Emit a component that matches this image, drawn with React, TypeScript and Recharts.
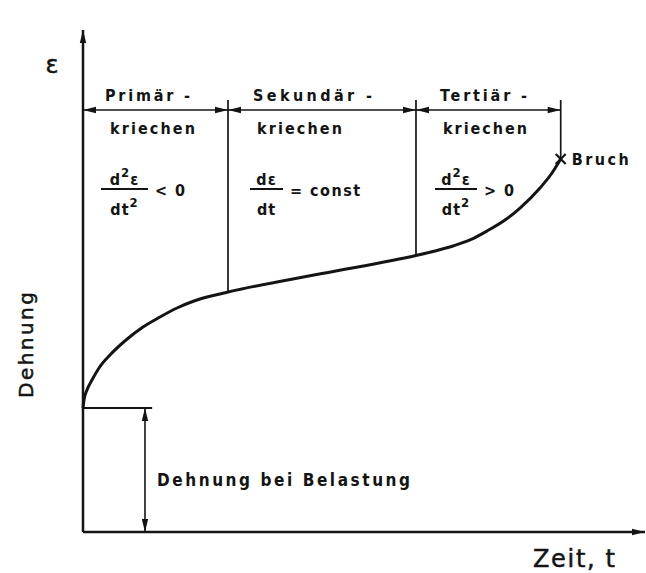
import React from 'react';
import { ComposedChart, Line, XAxis, YAxis, ReferenceLine, ReferenceDot } from 'recharts';

// Creep curve (Kriechkurve), arbitrary units: time t (0..100), strain ε (0..100)
const curveT = [0, 0.18, 0.71, 1.6, 2.85, 4.8, 7.65, 10.68, 13.7, 16.73, 19.75, 22.78, 25.8, 42.53, 59.25, 62.63, 65.84, 68.86, 71.89, 75.09, 77.76, 81.32, 83.45, 85.0];
const curveV = [24.7, 26.29, 28.29, 30.28, 32.67, 35.26, 38.25, 40.84, 42.83, 44.62, 46.02, 47.01, 47.81, 51.49, 55.08, 55.98, 56.97, 58.17, 59.96, 62.15, 64.54, 68.53, 71.51, 74.3];

// Phase boundaries (time) and strain where they meet the curve
const boundT = [0, 25.8, 59.25, 85.0];
const boundV = [24.7, 47.81, 55.08, 74.3];
const phaseNames = ['Primär -', 'Sekundär -', 'Tertiär -'];
const phaseNameWidths = [85, 119, 87];
const phaseSub = 'kriechen';
const phaseSubWidths = [85, 85, 84];
const phaseLabelT = [3.91, 30.25, 63.52];
const phaseSubT = [4.8, 30.96, 64.06];

// Levels (strain units)
const headerArrowV = 84.06;
const boundTopV = 86.06;
const headerLabelV = 85.86;
const subLabelV = 79.28;
const fracBarV = 68.33;

// Fractions
const fracNum = ['d²ε', 'dε', 'd²ε'];
const fracDen = ['dt²', 'dt', 'dt²'];
const fracSuffix = ['< 0', '= const', '> 0'];
const fracBarT0 = [3.2, 29.72, 62.63];
const fracBarT1 = [11.57, 35.59, 70.11];

// Initial strain
const initialStrainV = 24.7;
const initialLineEndT = 12.3;
const initialArrowT = 11.03;

const data = curveT.map((t, i) => ({ t, v: curveV[i] }));

const FONT = "'DejaVu Sans Condensed', 'DejaVu Sans', sans-serif";
const FONT_TITLE = "'DejaVu Sans', sans-serif";
const INK = '#141414';
const X_PX_PER_UNIT = 5.62;

const head = (x: number, y: number, a: number, key: string) => {
  const L = 13;
  const H = 3.2;
  const bx = x - L * Math.cos(a);
  const by = y - L * Math.sin(a);
  const px = -Math.sin(a) * H;
  const py = Math.cos(a) * H;
  return <polygon key={key} points={`${x},${y} ${bx + px},${by + py} ${bx - px},${by - py}`} fill={INK} />;
};

const arrowShape = (mode: 'none' | 'end' | 'both', width: number) => (p: any) => {
  const { x1, y1, x2, y2 } = p;
  const a = Math.atan2(y2 - y1, x2 - x1);
  return (
    <g>
      <line x1={x1} y1={y1} x2={x2} y2={y2} stroke={INK} strokeWidth={width} />
      {mode !== 'none' && head(x2, y2, a, 'e')}
      {mode === 'both' && head(x1, y1, a + Math.PI, 's')}
    </g>
  );
};

const textShape = (
  txt: string,
  size: number,
  len?: number,
  anchor: 'start' | 'middle' = 'start',
  rotate = 0,
  title = false
) => (p: any) => (
  <text
    x={p.cx}
    y={p.cy}
    fontFamily={title ? FONT_TITLE : FONT}
    fontWeight={title ? 'normal' : 'bold'}
    fontSize={size}
    textAnchor={anchor}
    fill={INK}
    stroke={title ? INK : undefined}
    strokeWidth={title ? 0.5 : undefined}
    textLength={len}
    lengthAdjust={len ? 'spacing' : undefined}
    transform={rotate ? `rotate(${rotate} ${p.cx} ${p.cy})` : undefined}
  >
    {txt}
  </text>
);

const fracShape = (num: string, den: string, suffix: string, w: number) => (p: any) => {
  const { cx, cy } = p;
  const mid = cx + w / 2;
  const sup = (s: string) => {
    const parts = s.split('²');
    if (parts.length === 1) return s;
    return (
      <>
        {parts[0]}
        <tspan dy={-8} fontSize={13}>2</tspan>
        <tspan dy={8}>{parts[1]}</tspan>
      </>
    );
  };
  return (
    <g fontFamily={FONT} fontWeight="bold" fill={INK}>
      <text x={mid} y={cy - 4} fontSize={16} letterSpacing={1} textAnchor="middle">{sup(num)}</text>
      <line x1={cx} y1={cy} x2={cx + w} y2={cy} stroke={INK} strokeWidth={1.8} />
      <text x={mid} y={cy + 26} fontSize={16} letterSpacing={1} textAnchor="middle">{sup(den)}</text>
      <text x={cx + w + 7} y={cy + 7} fontSize={16} letterSpacing={1.5}>{suffix}</text>
    </g>
  );
};

const crossShape = (p: any) => {
  const { cx, cy } = p;
  const s = 5;
  return (
    <g>
      <line x1={cx - s} y1={cy - s} x2={cx + s} y2={cy + s} stroke={INK} strokeWidth={2.2} />
      <line x1={cx - s} y1={cy + s} x2={cx + s} y2={cy - s} stroke={INK} strokeWidth={2.2} />
      <text x={cx + 11} y={cy + 6} fontFamily={FONT} fontWeight="bold" fontSize={16} fill={INK} textLength={57} lengthAdjust="spacing">Bruch</text>
    </g>
  );
};

export default function App() {
  return (
    <div style={{ position: 'absolute', left: 0, top: 0, width: 646, height: 573, background: '#fff' }}>
      <ComposedChart width={646} height={573} data={data} margin={{ top: 30, right: 1, bottom: 41, left: 83 }}>
        <XAxis dataKey="t" type="number" domain={[0, 100]} hide />
        <YAxis type="number" domain={[0, 100]} hide />

        {/* axes with arrows */}
        <ReferenceLine segment={[{ x: 0, y: 0 }, { x: 100, y: 0 }]} shape={arrowShape('end', 2.5)} ifOverflow="visible" />
        <ReferenceLine segment={[{ x: 0, y: 0 }, { x: 0, y: 100 }]} shape={arrowShape('end', 2.5)} ifOverflow="visible" />

        {/* phase boundaries */}
        {boundT.slice(1).map((t, i) => (
          <ReferenceLine key={`b${i}`} segment={[{ x: t, y: boundV[i + 1] }, { x: t, y: boundTopV }]} shape={arrowShape('none', 1.7)} ifOverflow="visible" />
        ))}
        {/* header arrows */}
        {phaseNames.map((_, i) => (
          <ReferenceLine key={`h${i}`} segment={[{ x: boundT[i], y: headerArrowV }, { x: boundT[i + 1], y: headerArrowV }]} shape={arrowShape('both', 1.7)} ifOverflow="visible" />
        ))}
        {phaseNames.map((n, i) => (
          <ReferenceDot key={`pn${i}`} x={phaseLabelT[i]} y={headerLabelV} r={0} shape={textShape(n, 16, phaseNameWidths[i])} ifOverflow="visible" />
        ))}
        {phaseNames.map((_, i) => (
          <ReferenceDot key={`ps${i}`} x={phaseSubT[i]} y={subLabelV} r={0} shape={textShape(phaseSub, 16, phaseSubWidths[i])} ifOverflow="visible" />
        ))}
        {fracNum.map((n, i) => (
          <ReferenceDot
            key={`f${i}`}
            x={fracBarT0[i]}
            y={fracBarV}
            r={0}
            shape={fracShape(n, fracDen[i], fracSuffix[i], (fracBarT1[i] - fracBarT0[i]) * X_PX_PER_UNIT)}
            ifOverflow="visible"
          />
        ))}

        {/* initial strain */}
        <ReferenceLine segment={[{ x: 0, y: initialStrainV }, { x: initialLineEndT, y: initialStrainV }]} shape={arrowShape('none', 1.8)} ifOverflow="visible" />
        <ReferenceLine segment={[{ x: initialArrowT, y: 0 }, { x: initialArrowT, y: initialStrainV }]} shape={arrowShape('both', 1.6)} ifOverflow="visible" />
        <ReferenceDot x={13.17} y={9.16} r={0} shape={textShape('Dehnung bei Belastung', 17, 253)} ifOverflow="visible" />

        {/* creep curve */}
        <Line dataKey="v" type="monotone" stroke={INK} strokeWidth={3} dot={false} isAnimationActive={false} />
        <ReferenceDot x={curveT[curveT.length - 1]} y={curveV[curveV.length - 1]} r={0} shape={crossShape} ifOverflow="visible" />

        {/* axis titles */}
        <ReferenceDot x={-5.52} y={91.43} r={0} shape={textShape('ε', 24, undefined, 'middle', 0, true)} ifOverflow="visible" />
        <ReferenceDot x={-8.9} y={37.25} r={0} shape={textShape('Dehnung', 20, 106, 'middle', -90, true)} ifOverflow="visible" />
        <ReferenceDot x={80.07} y={-6.97} r={0} shape={textShape('Zeit, t', 24, 82, 'start', 0, true)} ifOverflow="visible" />
      </ComposedChart>
    </div>
  );
}
